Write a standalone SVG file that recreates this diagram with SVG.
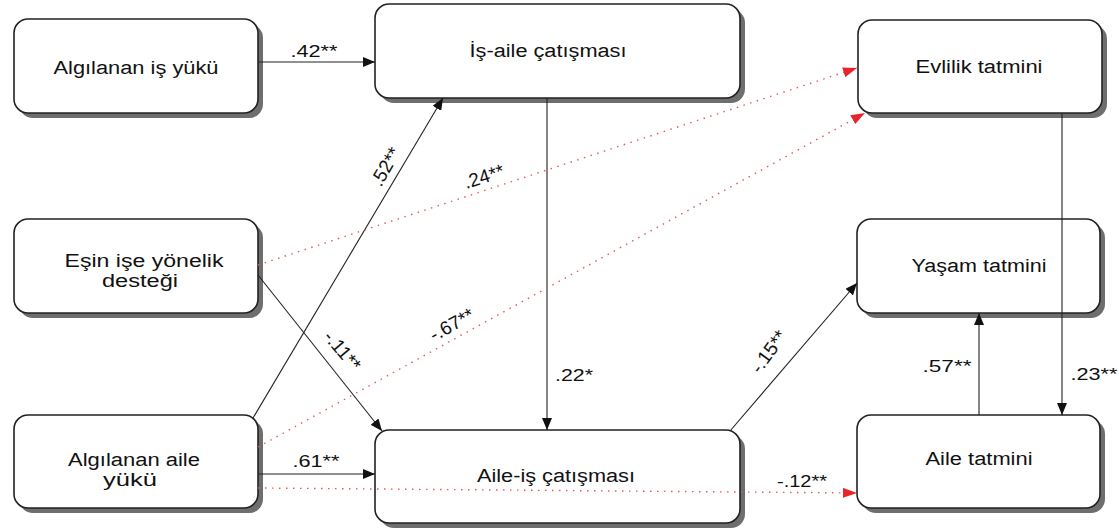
<svg xmlns="http://www.w3.org/2000/svg" width="1119" height="529" viewBox="0 0 1119 529">
<defs>
<marker id="ab" markerUnits="userSpaceOnUse" markerWidth="12" markerHeight="10" refX="12" refY="5" orient="auto"><path d="M0,0 L12,5 L0,10 z" fill="#111"/></marker>
<marker id="ar" markerUnits="userSpaceOnUse" markerWidth="14" markerHeight="10" refX="14" refY="5" orient="auto"><path d="M0,0 L14,5 L0,10 z" fill="#e8242a"/></marker>
</defs>
<style>
.sh{fill:#6e6e6e}
.bx{fill:#fff;stroke:#222;stroke-width:1.6}
.t{font-family:"Liberation Sans",Arial,sans-serif;font-size:18px;fill:#111;text-anchor:middle}
.l{font-family:"Liberation Sans",Arial,sans-serif;font-size:17px;fill:#111;text-anchor:middle}
.lr{font-family:"Liberation Sans",Arial,sans-serif;font-size:19px;fill:#111;text-anchor:middle}
.c{fill:none;stroke:#222;stroke-width:1.1}
.r{fill:none;stroke:#e8585a;stroke-width:1.4;stroke-dasharray:1.5 5.5}
</style>
<rect width="1119" height="529" fill="#fff"/>
<g id="n1"><rect class="sh" x="19" y="24" width="244" height="94" rx="14"/><rect class="bx" x="14" y="19" width="244" height="94" rx="14"/><text class="t" x="136" y="74" textLength="165" lengthAdjust="spacingAndGlyphs">Algılanan iş yükü</text></g>
<g id="n2"><rect class="sh" x="380" y="9" width="365" height="94" rx="14"/><rect class="bx" x="375" y="4" width="365" height="94" rx="14"/><text class="t" x="548" y="57" textLength="157" lengthAdjust="spacingAndGlyphs">İş-aile çatışması</text></g>
<g id="n3"><rect class="sh" x="863" y="25" width="244" height="93" rx="14"/><rect class="bx" x="858" y="20" width="244" height="93" rx="14"/><text class="t" x="979" y="73" textLength="127" lengthAdjust="spacingAndGlyphs">Evlilik tatmini</text></g>
<g id="n4"><rect class="sh" x="19" y="224" width="244" height="94" rx="14"/><rect class="bx" x="14" y="219" width="244" height="94" rx="14"/><text class="t" x="144" y="267" textLength="159" lengthAdjust="spacingAndGlyphs">Eşin işe yönelik</text><text class="t" x="140" y="287" textLength="76" lengthAdjust="spacingAndGlyphs">desteği</text></g>
<g id="n5"><rect class="sh" x="862" y="224" width="243" height="94" rx="14"/><rect class="bx" x="857" y="219" width="243" height="94" rx="14"/><text class="t" x="979" y="272" textLength="135" lengthAdjust="spacingAndGlyphs">Yaşam tatmini</text></g>
<g id="n6"><rect class="sh" x="862" y="420" width="243" height="93" rx="14"/><rect class="bx" x="857" y="415" width="243" height="93" rx="14"/><text class="t" x="979" y="465" textLength="107" lengthAdjust="spacingAndGlyphs">Aile tatmini</text></g>
<g id="n7"><rect class="sh" x="19" y="420" width="244" height="93" rx="14"/><rect class="bx" x="14" y="415" width="244" height="93" rx="14"/><text class="t" x="134" y="466" textLength="132" lengthAdjust="spacingAndGlyphs">Algılanan aile</text><text class="t" x="130" y="486" textLength="54" lengthAdjust="spacingAndGlyphs">yükü</text></g>
<g id="n8"><rect class="sh" x="380" y="435" width="365" height="93" rx="14"/><rect class="bx" x="375" y="430" width="365" height="93" rx="14"/><text class="t" x="556" y="482" textLength="158" lengthAdjust="spacingAndGlyphs">Aile-iş çatışması</text></g>
<g id="connectors">
<path class="c" d="M258,62 L375,62" marker-end="url(#ab)"/>
<path class="c" d="M258,474 L375,474" marker-end="url(#ab)"/>
<path class="c" d="M253,418 L443,98" marker-end="url(#ab)"/>
<path class="c" d="M258,275 L382,431" marker-end="url(#ab)"/>
<path class="c" d="M547,98 L547,430" marker-end="url(#ab)"/>
<path class="c" d="M730,431 L857,283" marker-end="url(#ab)"/>
<path class="c" d="M1062,113 L1062,415" marker-end="url(#ab)"/>
<path class="c" d="M979,415 L979,313" marker-end="url(#ab)"/>
<path class="r" d="M258,265 L857,68" marker-end="url(#ar)"/>
<path class="r" d="M258,447 L865,113" marker-end="url(#ar)"/>
<path class="r" d="M258,488 L857,493" marker-end="url(#ar)"/>
</g>
<g id="labels">
<text class="l" x="314" y="57" textLength="47" lengthAdjust="spacingAndGlyphs">.42**</text>
<text class="l" x="316" y="467" textLength="47" lengthAdjust="spacingAndGlyphs">.61**</text>
<text class="l" x="802" y="487" textLength="50" lengthAdjust="spacingAndGlyphs">-.12**</text>
<text class="l" x="574" y="381" textLength="38" lengthAdjust="spacingAndGlyphs">.22*</text>
<text class="l" x="947" y="372" textLength="49" lengthAdjust="spacingAndGlyphs">.57**</text>
<text class="l" x="1094" y="380" textLength="47" lengthAdjust="spacingAndGlyphs">.23**</text>
<text class="lr" transform="translate(386,167) rotate(-60)" x="0" y="6">.52**</text>
<text class="lr" transform="translate(484,177) rotate(-18)" x="0" y="6">.24**</text>
<text class="lr" transform="translate(342,351) rotate(50)" x="0" y="6">-.11**</text>
<text class="lr" transform="translate(452,325) rotate(-29)" x="0" y="6">-.67**</text>
<text class="lr" transform="translate(769,352) rotate(-54)" x="0" y="6">-.15**</text>
</g>
</svg>
